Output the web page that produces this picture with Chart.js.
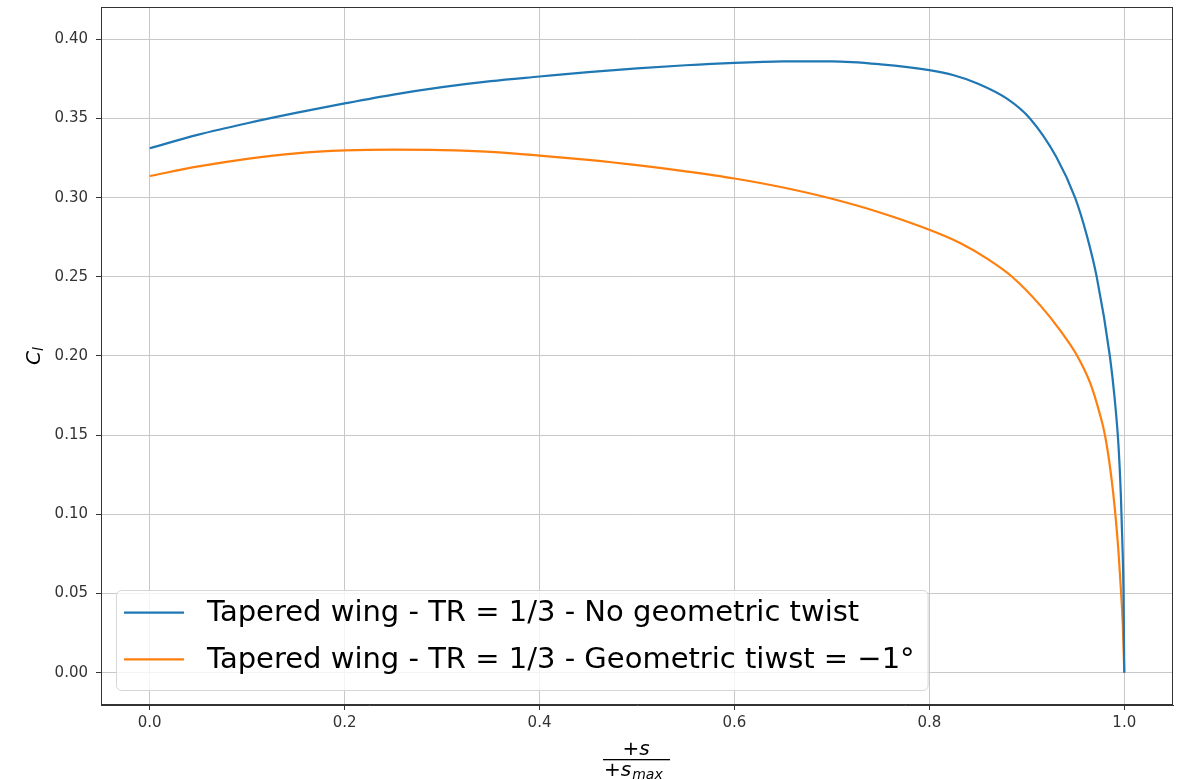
<!DOCTYPE html>
<html>
<head>
<meta charset="utf-8">
<script src="https://cdn.jsdelivr.net/npm/chart.js@4.4.1/dist/chart.umd.min.js"></script>
<style>
  body { margin: 0; background: #fff; }
  #wrap { width: 1178px; height: 780px; }
</style>
</head>
<body>
<div id="wrap"><canvas id="chart" width="1178" height="780"></canvas></div>
<script>
// no geometric twist: spanwise position s/smax and Cl
let spanNoTwist = [0, 0.05, 0.1, 0.15, 0.2, 0.25, 0.3, 0.35, 0.4, 0.45, 0.5, 0.55, 0.6, 0.65, 0.7, 0.75,
    0.8, 0.825, 0.85, 0.88, 0.903, 0.93, 0.9495, 0.9614, 0.9717, 0.9852, 0.99, 0.994, 0.9965, 0.998, 0.9992, 1.0];
let clNoTwist = [0.3312, 0.3398, 0.3470, 0.3535, 0.3595, 0.3651, 0.3698, 0.3736, 0.3765, 0.3793, 0.3816,
    0.3836, 0.3851, 0.3860, 0.3861, 0.3842, 0.3805, 0.3773, 0.3720, 0.3624, 0.3502, 0.3260, 0.3000,
    0.2765, 0.2500, 0.2000, 0.1740, 0.1440, 0.1120, 0.0830, 0.0520, 0];

// geometric twist -1 deg
let spanTwist = [0, 0.05, 0.1, 0.15, 0.2, 0.25, 0.3, 0.35, 0.4, 0.45, 0.5, 0.55, 0.6, 0.65, 0.7, 0.75,
    0.8, 0.832, 0.86, 0.884, 0.914, 0.935, 0.9516, 0.965, 0.9751, 0.9802, 0.986, 0.9904, 0.994, 0.9966, 0.9985, 1.0];
let clTwist = [0.3137, 0.3197, 0.3245, 0.3280, 0.3298, 0.3303, 0.3300, 0.3289, 0.3266, 0.3238, 0.3205,
    0.3166, 0.3121, 0.3064, 0.2993, 0.2905, 0.2797, 0.2712, 0.2612, 0.2505, 0.2318, 0.2155, 0.2002,
    0.1830, 0.1630, 0.1500, 0.1270, 0.1030, 0.0770, 0.0520, 0.0300, 0];

let seriesLabels = ['Tapered wing - TR = 1/3 - No geometric twist',
    'Tapered wing - TR = 1/3 - Geometric tiwst = \u22121\u00b0'];
let xTicks = [0, 0.2, 0.4, 0.6, 0.8, 1.0];
let yTicks = [0, 0.05, 0.1, 0.15, 0.2, 0.25, 0.3, 0.35, 0.4];

let font = '"DejaVu Sans", sans-serif';

function toPoints(xs, ys) {
    return xs.map((x, i) => ({ x: x, y: ys[i] }));
}

let extras = {
    id: 'extras',
    afterDraw(chart) {
        let c = chart.ctx;
        let a = chart.chartArea;
        c.save();
        // frame
        c.strokeStyle = '#333';
        c.lineWidth = 1;
        c.strokeRect(a.left + 0.5, a.top + 0.5, a.right - a.left - 1, a.bottom - a.top - 1);

        // legend
        c.font = '29px ' + font;
        let tw = Math.max(...chart.data.datasets.map(d => c.measureText(d.label).width));
        let bx = a.left + 15, bh = 100, by = a.bottom - 15 - bh;
        let bw = 8 + 60 + 23 + tw + 13;
        c.beginPath();
        c.roundRect(bx + 0.5, by + 0.5, bw, bh, 5);
        c.fillStyle = 'rgba(255,255,255,0.8)';
        c.fill();
        c.strokeStyle = '#d6d6d6';
        c.stroke();
        let rows = [22.7, 69.3];
        chart.data.datasets.forEach((d, i) => {
            let y = by + rows[i];
            c.strokeStyle = d.borderColor;
            c.lineWidth = 2.2;
            c.beginPath();
            c.moveTo(bx + 8, y);
            c.lineTo(bx + 68, y);
            c.stroke();
            c.fillStyle = '#000';
            c.textBaseline = 'middle';
            c.textAlign = 'left';
            c.fillText(d.label, bx + 91, y + 1);
        });

        // y title C_l
        c.fillStyle = '#000';
        c.translate(33, 357);
        c.rotate(-Math.PI / 2);
        c.textBaseline = 'alphabetic';
        c.font = 'italic 20px ' + font;
        c.fillText('C', -8, 7);
        c.font = 'italic 14px ' + font;
        c.fillText('l', 6, 10);
        c.setTransform(1, 0, 0, 1, 0, 0);

        // x title +s / +s_max
        let cx = 636;
        c.font = '20px ' + font;
        let plus = c.measureText('+').width;
        c.font = 'italic 20px ' + font;
        let sw = c.measureText('s').width;
        let nx = cx - (plus + sw) / 2;
        c.font = '20px ' + font;
        c.fillText('+', nx, 755);
        c.font = 'italic 20px ' + font;
        c.fillText('s', nx + plus, 755);
        c.fillRect(603, 759, 67, 1.3);
        let dx = 604;
        c.font = '20px ' + font;
        c.fillText('+', dx, 776);
        c.font = 'italic 20px ' + font;
        c.fillText('s', dx + plus, 776);
        c.font = 'italic 14px ' + font;
        c.fillText('max', dx + plus + sw + 1, 779);
        c.restore();
    }
};

let ctx = document.getElementById('chart').getContext('2d');
let myChart = new Chart(ctx, {
    type: 'line',
    data: {
        datasets: [{
            label: seriesLabels[0],
            data: toPoints(spanNoTwist, clNoTwist),
            borderColor: '#1f77b4',
            borderWidth: 2.2,
            pointRadius: 0,
            cubicInterpolationMode: 'monotone'
        }, {
            label: seriesLabels[1],
            data: toPoints(spanTwist, clTwist),
            borderColor: '#ff7f0e',
            borderWidth: 2.2,
            pointRadius: 0,
            cubicInterpolationMode: 'monotone'
        }]
    },
    options: {
        responsive: false,
        animation: false,
        layout: { padding: { top: 7, right: 5, left: 0, bottom: 0 } },
        plugins: { legend: { display: false }, tooltip: { enabled: false } },
        scales: {
            x: {
                type: 'linear',
                min: -0.05,
                max: 1.05,
                afterBuildTicks: s => { s.ticks = xTicks.map(v => ({ value: v })); },
                afterFit: s => { s.height = 75; s.paddingLeft = 0; s.paddingRight = 0; },
                grid: { color: '#c8c8c8', tickColor: '#333', tickLength: 5 },
                border: { color: '#333' },
                ticks: {
                    padding: 4,
                    color: '#333',
                    font: { family: font, size: 15 },
                    callback: v => v.toFixed(1)
                }
            },
            y: {
                min: -0.0204,
                max: 0.4204,
                afterBuildTicks: s => { s.ticks = yTicks.map(v => ({ value: v })); },
                afterFit: s => { s.width = 101; s.paddingTop = 0; s.paddingBottom = 0; },
                grid: { color: '#c8c8c8', tickColor: '#333', tickLength: 5 },
                border: { color: '#333' },
                ticks: {
                    padding: 8,
                    color: '#333',
                    font: { family: font, size: 15 },
                    callback: v => v.toFixed(2)
                }
            }
        }
    },
    plugins: [extras]
});
</script>
</body>
</html>
